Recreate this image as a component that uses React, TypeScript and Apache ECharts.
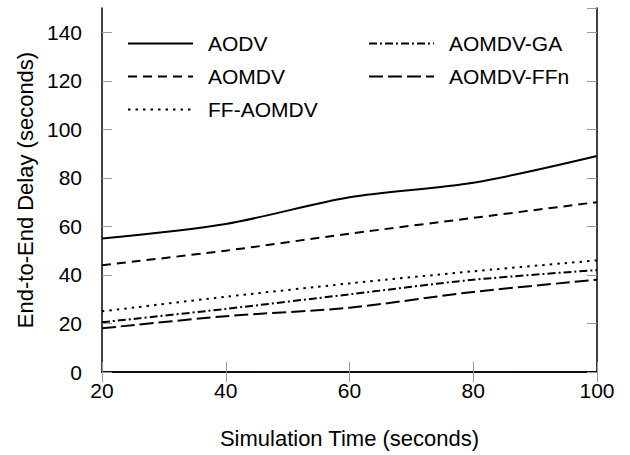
import React, { useEffect, useRef } from "react";
import * as echarts from "echarts";

const simTimes = [20, 40, 60, 80, 100];
const aodv = [55, 61, 72, 78, 89];
const aomdv = [44, 50, 57, 63.5, 70];
const ffAomdv = [25, 31, 36.5, 41.5, 46];
const aomdvGa = [20.5, 26, 32, 38, 42];
const aomdvFfn = [18, 23, 26.5, 33, 38];

const seriesNames = ["AODV", "AOMDV", "FF-AOMDV", "AOMDV-GA", "AOMDV-FFn"];
const seriesValues = [aodv, aomdv, ffAomdv, aomdvGa, aomdvFfn];
const dashes: (string | number[])[] = ["solid", [9, 6], [2.5, 5], [8, 3, 2, 3], [14, 5]];

const FONT = "'Liberation Sans', Arial, sans-serif";

export default function App() {
  const ref = useRef<HTMLDivElement>(null);
  useEffect(() => {
    if (!ref.current) return;
    const chart = echarts.init(ref.current, undefined, { renderer: "svg" });
    const tickStyle = { show: true, inside: true, length: 10, lineStyle: { color: "#999", width: 1 } };
    const axisLine = { show: true, lineStyle: { color: "#000", width: 1.5 } };
    const legendText = { fontFamily: FONT, fontSize: 21, color: "#000", lineHeight: 21, padding: [0, 0, 0, 10] };
    const legendCommon = {
      orient: "vertical",
      top: 28,
      itemWidth: 65,
      itemHeight: 14,
      itemGap: 12,
      textStyle: legendText,
      itemStyle: { opacity: 0 },
      lineStyle: { width: 2 },
    };
    chart.setOption({
      animation: false,
      backgroundColor: "#fff",
      textStyle: { fontFamily: FONT },
      grid: { left: 102, right: 33, top: 8, bottom: 83, containLabel: false },
      legend: [
        { ...legendCommon, left: 122, data: seriesNames.slice(0, 3) },
        { ...legendCommon, left: 363, data: seriesNames.slice(3) },
      ],
      xAxis: [
        {
          type: "value",
          min: 20,
          max: 100,
          interval: 20,
          position: "bottom",
          name: "Simulation Time (seconds)",
          nameLocation: "middle",
          nameGap: 55,
          nameTextStyle: { fontFamily: FONT, fontSize: 22, color: "#000" },
          axisLine,
          axisTick: tickStyle,
          splitLine: { show: false },
          axisLabel: { fontFamily: FONT, fontSize: 21, color: "#000", margin: 8 },
        },
        {
          type: "value",
          min: 20,
          max: 100,
          interval: 20,
          position: "top",
          axisLine,
          axisTick: tickStyle,
          splitLine: { show: false },
          axisLabel: { show: false },
        },
      ],
      yAxis: [
        {
          type: "value",
          min: 0,
          max: 150,
          interval: 20,
          position: "left",
          name: "End-to-End Delay (seconds)",
          nameLocation: "middle",
          nameGap: 62,
          nameTextStyle: { fontFamily: FONT, fontSize: 22, color: "#000" },
          axisLine,
          axisTick: tickStyle,
          splitLine: { show: false },
          axisLabel: {
            fontFamily: FONT,
            fontSize: 21,
            color: "#000",
            margin: 20,
            showMaxLabel: false,
          },
        },
        {
          type: "value",
          min: 0,
          max: 150,
          interval: 20,
          position: "right",
          axisLine,
          axisTick: tickStyle,
          splitLine: { show: false },
          axisLabel: { show: false },
        },
      ],
      series: seriesNames.map((name, i) => ({
        name,
        type: "line",
        xAxisIndex: 0,
        yAxisIndex: 0,
        data: simTimes.map((t, j) => [t, seriesValues[i][j]]),
        smooth: 0.3,
        symbol: "none",
        lineStyle: { color: "#000", width: 2, type: dashes[i] },
        itemStyle: { color: "#000" },
      })),
    });
    return () => chart.dispose();
  }, []);
  return (
    <div
      ref={ref}
      style={{ position: "fixed", left: 0, top: 0, width: 630, height: 455, background: "#fff" }}
    />
  );
}
